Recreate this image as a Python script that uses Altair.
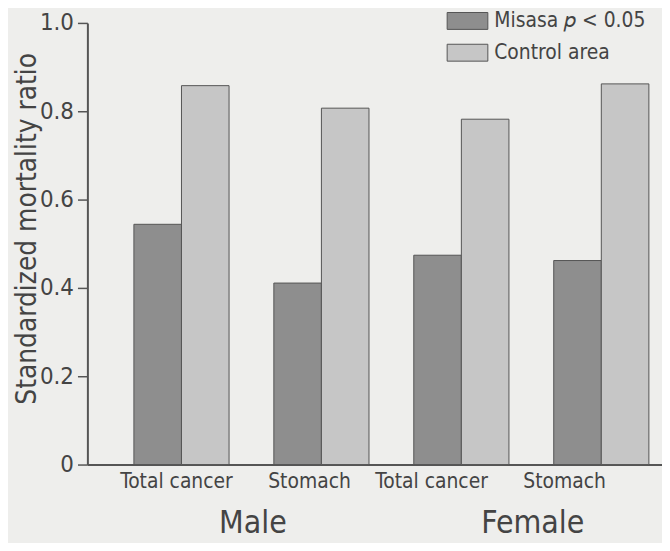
import altair as alt
import pandas as pd

# ---- data ----
sexes = ["Male", "Female"]
groups = ["Male", "Male", "Female", "Female"]
sites = ["Total cancer", "Stomach", "Total cancer", "Stomach"]
misasa = [0.544, 0.411, 0.474, 0.462]
control = [0.858, 0.807, 0.782, 0.862]
series = ["Misasa 𝑝 < 0.05", "Control area"]
y_ticks = [0, 0.2, 0.4, 0.6, 0.8, 1.0]

keys = [f"{g}|{s}" for g, s in zip(groups, sites)]
rows = []
for k, g, s, m, c in zip(keys, groups, sites, misasa, control):
    rows.append(dict(key=k, sex=g, site=s, series=series[0], value=m))
    rows.append(dict(key=k, sex=g, site=s, series=series[1], value=c))
df = pd.DataFrame(rows)

sex_df = pd.DataFrame({"sex": sexes, "key": [keys[0], keys[2]]})

FONT = "Liberation Sans Narrow, DejaVu Sans Condensed, Roboto, sans-serif"
TXT = "#444444"
AX = "#555555"

xscale = alt.Scale(domain=keys, paddingInner=0.32, paddingOuter=0.213, align=0.78)

label_offset_expr = (
    f"datum.value == '{keys[0]}' ? -5 : datum.value == '{keys[1]}' ? -12 : "
    f"datum.value == '{keys[2]}' ? -30 : -37"
)

bars = alt.Chart(df).mark_bar(stroke=AX, strokeWidth=1).encode(
    x=alt.X(
        "key:N",
        scale=xscale,
        sort=keys,
        axis=alt.Axis(
            title=None,
            labelExpr="split(datum.value, '|')[1]",
            labelAngle=0,
            ticks=False,
            domainColor=AX,
            domainWidth=2,
            labelFont=FONT,
            labelFontSize=21,
            labelColor=TXT,
            labelPadding=6,
            labelOffset={"expr": label_offset_expr},
        ),
    ),
    xOffset=alt.XOffset("series:N", sort=series,
                        scale=alt.Scale(domain=series, paddingInner=0, paddingOuter=0)),
    y=alt.Y(
        "value:Q",
        scale=alt.Scale(domain=[0, 1], nice=False),
        axis=alt.Axis(
            values=y_ticks,
            labelExpr="datum.value == 0 ? '0' : format(datum.value, '.1f')",
            grid=False,
            tickSize=10,
            tickColor=AX,
            tickWidth=1.5,
            domainColor=AX,
            domainWidth=2,
            labelFont=FONT,
            labelFontSize=24,
            labelColor=TXT,
            labelPadding=4,
            title="Standardized mortality ratio",
            titleFont=FONT,
            titleFontSize=28,
            titleFontWeight="normal",
            titleColor=TXT,
            titleAngle=270,
            titleBaseline="alphabetic",
            titleAlign="center",
            titleX=-52,
            titleY=207,
        ),
    ),
    color=alt.Color(
        "series:N",
        sort=series,
        scale=alt.Scale(domain=series, range=["#8e8e8e", "#c6c6c6"]),
        legend=alt.Legend(
            title=None,
            orient="none",
            legendX=362,
            legendY=-23,
            symbolType="M-1,-0.415H1V0.415H-1Z",
            symbolSize=1681,
            symbolStrokeColor=AX,
            symbolStrokeWidth=1,
            labelFont=FONT,
            labelFontSize=21,
            labelColor=TXT,
            labelOffset=6,
            rowPadding=-11,
            padding=0,
        ),
    ),
)

sex_text = alt.Chart(sex_df).mark_text(
    font=FONT, fontSize=32, color=TXT, dx=72, baseline="alphabetic"
).encode(
    x=alt.X("key:N", scale=xscale, sort=keys),
    y=alt.value(514),
    text="sex:N",
)

chart = alt.layer(bars, sex_text).properties(
    width=579,
    height=445,
    autosize=alt.AutoSizeParams(type="none"),
    padding={"left": 80, "top": 13, "right": 0, "bottom": 77},
    background="#eeeeec",
).configure_view(stroke=None)

chart.save("out.html", embed_options={"renderer": "svg", "actions": False})
